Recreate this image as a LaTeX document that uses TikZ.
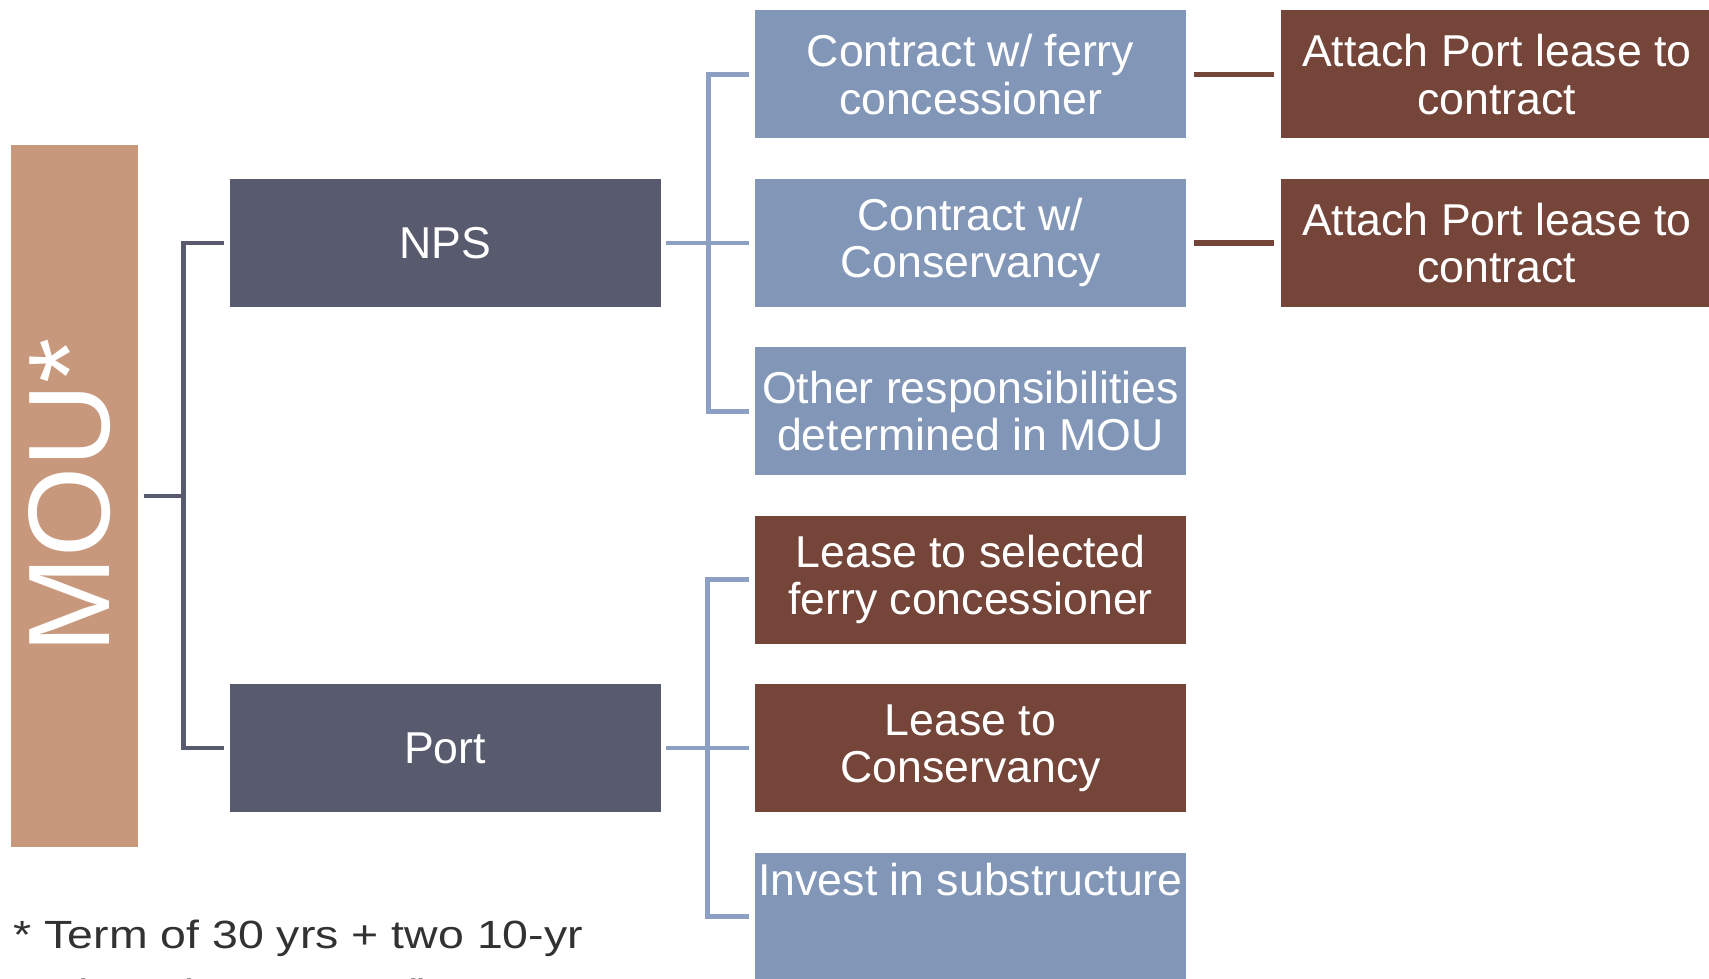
\documentclass[tikz,border=0pt]{standalone}
\usepackage{fontspec}
\setmainfont{Liberation Sans}
\newfontfamily\notefont[FakeStretch=1.18]{Liberation Sans}
\usepackage{xcolor}
\usepackage{tikz}
\usetikzlibrary{positioning}

\definecolor{moutan}{RGB}{200,152,124}
\definecolor{slate}{RGB}{88,91,110}
\definecolor{steel}{RGB}{130,151,183}
\definecolor{rust}{RGB}{117,69,57}
\definecolor{steelline}{RGB}{140,160,196}
\definecolor{notegray}{RGB}{50,50,50}

\begin{document}
\begin{tikzpicture}[box/.style={minimum width=4.31cm, minimum height=1.28cm, inner sep=0pt, align=center, text=white, font=\fontsize{12.7}{13.4}\selectfont}]
        \tikzstyle{bluebox} = [box, fill=steel]
        \tikzstyle{brownbox} = [box, fill=rust]
        \tikzstyle{slatebox} = [box, fill=slate]
        \tikzstyle{moubox} = [fill=moutan, minimum width=1.27cm, minimum height=7.02cm, inner sep=0pt, text=white, font=\fontsize{33}{36}\selectfont]
        \tikzstyle{note} = [anchor=north west, inner sep=0pt, align=left, text=notegray, font=\notefont\fontsize{11.2}{16.8}\selectfont]
        \tikzstyle{trunk} = [draw=slate, line width=1.3pt, shorten <=0.05cm, shorten >=0.05cm]
        \tikzstyle{branch} = [draw=steelline, line width=1.3pt, shorten <=0.05cm, shorten >=0.05cm]
        \tikzstyle{tie} = [draw=rust, line width=1.5pt, shorten <=0.07cm, shorten >=0.07cm]

        \path[use as bounding box, fill=white] (0,0) rectangle (17.09,-9.79);
        \clip (0,0) rectangle (17.09,-9.79);

        % middle column
        \node[bluebox] (ferry) at (9.705,-0.745) {Contract w/ ferry\\concessioner};
        \node[bluebox, below = 0.39cm of ferry] (consv) {Contract w/\\Conservancy};
        \node[bluebox, below = 0.39cm of consv] (other) {Other responsibilities\\determined in MOU};
        \node[brownbox, below = 0.39cm of other] (leasef) {Lease to selected\\ferry concessioner};
        \node[brownbox, below = 0.39cm of leasef] (leasec) {Lease to\\Conservancy};
        \node[bluebox, below = 0.39cm of leasec] (invest) {Invest in substructure\\[7.9pt]\mbox{}};

        % parties
        \node[slatebox, left = 0.93cm of consv] (nps) {NPS};
        \node[slatebox, left = 0.93cm of leasec] (port) {Port};
        \node[moubox] (mou) at (0.745,-4.96) {\rotatebox{90}{MOU*}\kern0.09cm};

        % right column
        \node[brownbox, right = 0.94cm of ferry] (attach1) {Attach Port lease to\\contract};
        \node[brownbox, right = 0.94cm of consv] (attach2) {Attach Port lease to\\contract};

        \node[note] (term) at (0.13,-9.19) {* Term of 30 yrs + two 10-yr\\options (50 yrs total)};

        \draw[trunk] (mou.east) -- ++(0.45,0) |- (nps.west);
        \draw[trunk] (mou.east) -- ++(0.45,0) |- (port.west);
        \draw[branch] (nps.east) -- (consv.west);
        \draw[branch] (ferry.west) -- ++(-0.46,0) |- (other.west);
        \draw[branch] (port.east) -- (leasec.west);
        \draw[branch] (leasef.west) -- ++(-0.47,0) |- (invest.west);
        \draw[tie] (ferry.east) -- (attach1.west);
        \draw[tie] (consv.east) -- (attach2.west);
\end{tikzpicture}
\end{document}
